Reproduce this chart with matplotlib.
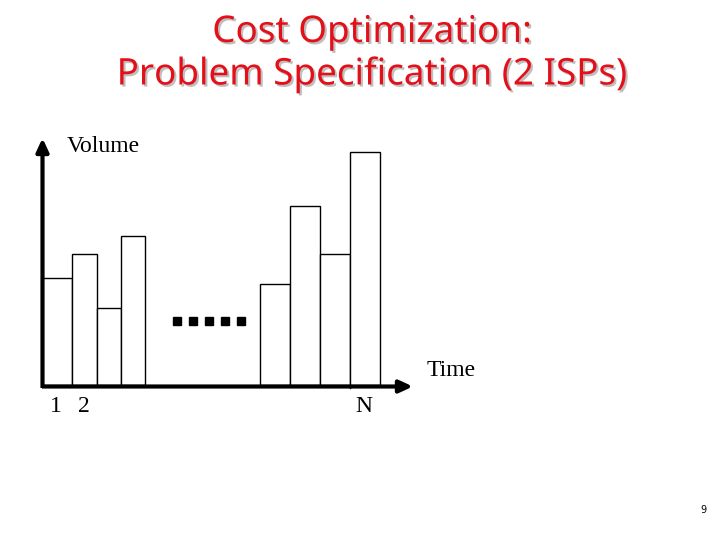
import matplotlib
matplotlib.use("Agg")
import matplotlib.pyplot as plt
import matplotlib.patheffects as pe

# ---- data ----
title_lines = ["Cost Optimization:", "Problem Specification (2 ISPs)"]
y_label = "Volume"
x_label = "Time"
slot_labels = ["1", "2", "N"]
page_number = "9"

# volumes of the first group of time slots and of the last group
volumes_first = [107, 131, 77, 149]
volumes_last = [101, 179, 131, 233]

# ---- layout (pixels) ----
W, H = 720, 540
fig = plt.figure(figsize=(W / 100, H / 100), dpi=100)
fig.patch.set_facecolor("white")

x0, y0 = 42, 385          # origin in pixels
x_end, y_top = 413, 138   # arrow tips
ax = fig.add_axes([x0 / W, (H - y0) / H, (x_end - x0) / W, (y0 - y_top) / H])
ax.set_xlim(0, x_end - x0)
ax.set_ylim(0, y0 - y_top)
ax.axis("off")

first_edges = [0, 30, 55, 78.5]
first_widths = [30, 25, 23.5, 24]
last_edges = [217.5, 247.5, 277.5, 307.5]
last_widths = [30, 30, 30, 30]

ax.bar(first_edges, volumes_first, width=first_widths, align="edge",
       facecolor="white", edgecolor="black", linewidth=1.0, zorder=2)
ax.bar(last_edges, volumes_last, width=last_widths, align="edge",
       facecolor="white", edgecolor="black", linewidth=1.0, zorder=2)

# small tick below the last slot
ax.plot([last_edges[-1], last_edges[-1]], [0, -3], color="black", lw=1.0,
        clip_on=False, zorder=2)

# dots (ellipsis)
ax.plot([135, 151, 167, 183, 199], [64] * 5, linestyle="none", marker="s",
        markersize=5.2, color="black", zorder=3)

# axes arrows (in figure pixels)
fx = lambda px: px / W
fy = lambda py: 1 - py / H
arrow_style = "-|>,head_length=5,head_width=2.3"
fig.add_artist(matplotlib.patches.FancyArrowPatch(
    (fx(42), fy(386.5)), (fx(x_end), fy(386.5)), transform=fig.transFigure,
    arrowstyle=arrow_style, mutation_scale=1.6,
    lw=3.0, color="black", shrinkA=0, shrinkB=0, capstyle="butt"))
fig.add_artist(matplotlib.patches.FancyArrowPatch(
    (fx(42.5), fy(388)), (fx(42.5), fy(y_top)), transform=fig.transFigure,
    arrowstyle=arrow_style, mutation_scale=1.6,
    lw=3.0, color="black", shrinkA=0, shrinkB=0, capstyle="butt"))

serif = ["Liberation Serif", "DejaVu Serif"]
fig.text(fx(67), fy(146), y_label, family=serif, fontsize=17, ha="left", va="center")
fig.text(fx(427), fy(371), x_label, family=serif, fontsize=17, ha="left", va="center")
for lab, px in zip(slot_labels, [56, 84, 364]):
    fig.text(fx(px), fy(407), lab, family=serif, fontsize=17, ha="center", va="center")

# title
red = "#E3101A"
shadow = [pe.withSimplePatchShadow(offset=(1.5, -1.5), shadow_rgbFace="#b0b0b0", alpha=0.8)]
for line, py in zip(title_lines, [33, 75]):
    fig.text(fx(372), fy(py), line, color=red, fontsize=26.5, ha="center", va="center",
             family=["Noto Sans", "DejaVu Sans"], path_effects=shadow)

fig.text(fx(703), fy(510), page_number, fontsize=7, ha="center", va="center",
         family=["DejaVu Sans"])

fig.savefig("out.png", dpi=100, facecolor="white")
